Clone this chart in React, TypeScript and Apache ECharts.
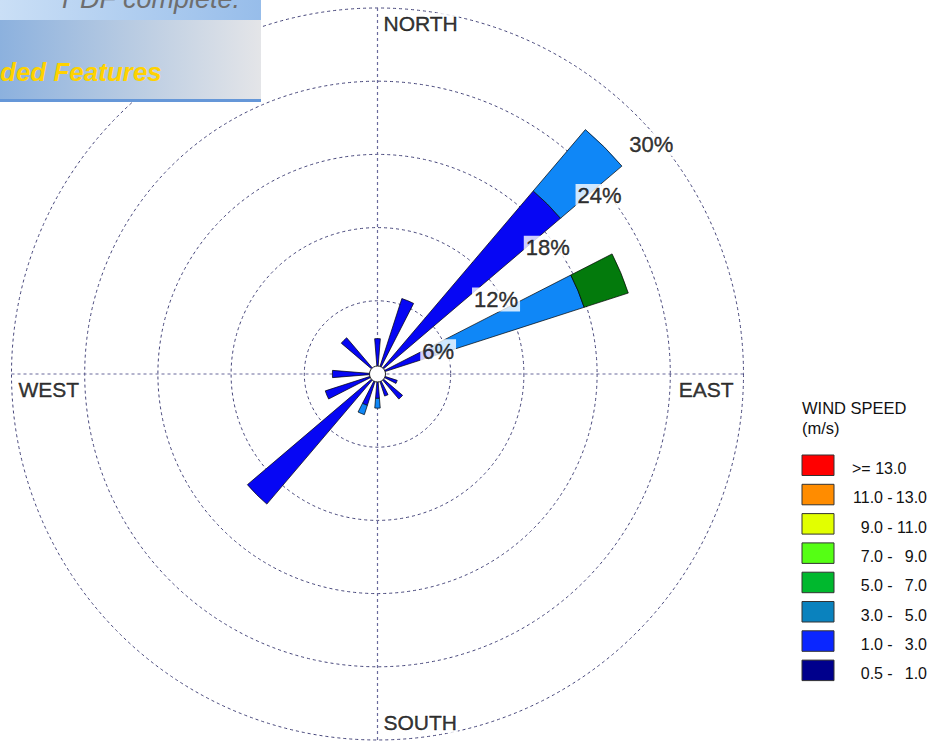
import React, { useEffect, useRef } from "react";
import * as echarts from "echarts";

// 16 compass sectors, clockwise from north
const directions = ["N", "NNE", "NE", "ENE", "E", "ESE", "SE", "SSE", "S", "SSW", "SW", "WSW", "W", "WNW", "NW", "NNW"];

// Frequency (%) of each wind speed class per sector
const speed1to3 = [2.9, 6.5, 19.7, 5.0, 0, 1.7, 2.7, 1.9, 2.0, 2.7, 14.0, 4.5, 3.7, 0, 3.9, 0];
const speed3to5 = [0, 0, 6.6, 12.8, 0, 0, 0, 0, 0.8, 0.8, 0, 0, 0, 0, 0, 0];
const speed5to7 = [0, 0, 0, 3.8, 0, 0, 0, 0, 0, 0, 0, 0, 0, 0, 0, 0];

// Frequency rings
const ringTicks = [6, 12, 18, 24, 30];
const ringMax = 30;

// Compass labels and their bearings
const compassNames = ["NORTH", "EAST", "SOUTH", "WEST"];
const compassBearings = [0, 90, 180, 270];

// Legend classes (m/s)
const legendTitle = ["WIND SPEED", "(m/s)"];
const classLow = ["", "11.0", "9.0", "7.0", "5.0", "3.0", "1.0", "0.5"];
const classHigh = [">= 13.0", "13.0", "11.0", "9.0", "7.0", "5.0", "3.0", "1.0"];
const classColors = ["#FF0000", "#FF8C00", "#E2FF00", "#55FF14", "#00B82E", "#0A82BE", "#0A26FF", "#00008C"];

// Colours of the bar segments as drawn in the rose
const barColors = { s1: "#0606F4", s3: "#0F87F7", s5: "#037A0C" };

const CENTER: [number, number] = [377.5, 374];
const RADIUS = 366;
const FONT = "'Liberation Sans', Arial, Helvetica, sans-serif";

const nz = (arr: number[]) => arr.map((v) => (v === 0 ? null : v));

function buildOption() {
  const barCommon = {
    type: "bar" as const,
    coordinateSystem: "polar",
    polarIndex: 0,
    stack: "rose",
    barWidth: "41%",
    z: 2,
    silent: true,
  };

  const compassLayouts: Record<string, any> = {
    NORTH: { position: [5, 5], align: "left" },
    EAST: { position: [-9, 5], align: "right" },
    SOUTH: { position: [5, -28], align: "left" },
    WEST: { position: [6, 5], align: "left" },
  };

  const ink = { fill: "#111" };

  const legendX = 802;
  const legendTop = 455;
  const rowStep = 29.3;
  const rowFont = `16px ${FONT}`;
  const legendGraphics: any[] = [
    {
      type: "text",
      left: legendX,
      top: 399,
      style: { text: legendTitle[0], font: `16.5px ${FONT}`, ...ink },
    },
    {
      type: "text",
      left: legendX,
      top: 419,
      style: { text: legendTitle[1], font: `16.5px ${FONT}`, ...ink },
    },
  ];
  classColors.forEach((c, i) => {
    const y = legendTop + i * rowStep;
    legendGraphics.push({
      type: "rect",
      shape: { x: legendX, y, width: 32, height: 20.5 },
      style: { fill: c, stroke: "#333", lineWidth: 1 },
    });
    const ty = y + 13.5;
    if (classLow[i] === "") {
      legendGraphics.push({
        type: "text",
        x: 852,
        y: ty,
        style: { text: classHigh[i], font: rowFont, ...ink, textAlign: "left", textVerticalAlign: "middle" },
      });
    } else {
      legendGraphics.push(
        {
          type: "text",
          x: 883,
          y: ty,
          style: { text: classLow[i], font: rowFont, ...ink, textAlign: "right", textVerticalAlign: "middle" },
        },
        {
          type: "text",
          x: 890,
          y: ty,
          style: { text: "-", font: rowFont, ...ink, textAlign: "center", textVerticalAlign: "middle" },
        },
        {
          type: "text",
          x: 927,
          y: ty,
          style: { text: classHigh[i], font: rowFont, ...ink, textAlign: "right", textVerticalAlign: "middle" },
        }
      );
    }
  });

  // Software banner in the top-left corner
  const banner: any[] = [
    {
      type: "rect",
      shape: { x: 0, y: 0, width: 261, height: 20 },
      style: {
        fill: new echarts.graphic.LinearGradient(0, 0, 1, 0, [
          { offset: 0, color: "#CADFF6" },
          { offset: 1, color: "#97BDEA" },
        ]),
      },
      z: 50,
    },
    {
      type: "rect",
      shape: { x: 0, y: 20, width: 261, height: 80 },
      style: {
        fill: new echarts.graphic.LinearGradient(0, 0, 1, 0, [
          { offset: 0, color: "#8CB1DE" },
          { offset: 0.5, color: "#B8CBE2" },
          { offset: 1, color: "#E4E5E8" },
        ]),
      },
      z: 50,
    },
    {
      type: "rect",
      shape: { x: 0, y: 99, width: 261, height: 3 },
      style: { fill: "#6597D8" },
      z: 51,
    },
    {
      type: "text",
      x: 240,
      y: 12,
      style: {
        text: "PDF complete.",
        font: `italic 27px ${FONT}`,
        fill: "#6E6E6E",
        textAlign: "right",
        textVerticalAlign: "bottom",
      },
      z: 52,
    },
    {
      type: "text",
      x: 0,
      y: 72,
      style: {
        text: "ded Features",
        font: `italic bold 26px ${FONT}`,
        fill: "#FFD200",
        textAlign: "left",
        textVerticalAlign: "middle",
      },
      z: 52,
    },
  ];

  return {
    animation: false,
    backgroundColor: "#FFFFFF",
    polar: [
      { center: CENTER, radius: [0, RADIUS] },
      { center: CENTER, radius: [0, RADIUS] },
    ],
    angleAxis: [
      {
        polarIndex: 0,
        type: "category",
        data: directions,
        startAngle: 90 + 180 / directions.length,
        clockwise: true,
        show: false,
      },
      {
        polarIndex: 1,
        type: "value",
        min: 0,
        max: 360,
        interval: 90,
        startAngle: 90,
        clockwise: true,
        axisLine: { show: false },
        axisTick: { show: false },
        axisLabel: { show: false },
        splitLine: { show: true, lineStyle: { color: "#6A6A9C", width: 1.2, type: [3, 3] } },
      },
    ],
    radiusAxis: [
      { polarIndex: 0, type: "value", min: 0, max: ringMax, show: false },
      {
        polarIndex: 1,
        type: "value",
        min: 0,
        max: ringMax,
        interval: 6,
        axisLine: { show: false },
        axisTick: { show: false },
        axisLabel: { show: false },
        splitLine: { show: true, lineStyle: { color: "#45457A", width: 1, type: [3, 3] } },
      },
    ],
    series: [
      { ...barCommon, name: "1.0 - 3.0", data: nz(speed1to3), itemStyle: { color: barColors.s1, borderColor: "#000", borderWidth: 0.7 } },
      { ...barCommon, name: "3.0 - 5.0", data: nz(speed3to5), itemStyle: { color: barColors.s3, borderColor: "#000", borderWidth: 0.7 } },
      { ...barCommon, name: "5.0 - 7.0", data: nz(speed5to7), itemStyle: { color: barColors.s5, borderColor: "#000", borderWidth: 0.7 } },
      {
        type: "scatter",
        coordinateSystem: "polar",
        polarIndex: 1,
        symbolSize: 0,
        silent: true,
        z: 10,
        data: ringTicks.map((r) => ({ value: [r, 45] })),
        label: {
          show: true,
          position: [-9, 17],
          formatter: (p: any) => `${p.value[0]}%`,
          fontFamily: FONT,
          fontSize: 22,
          color: "#000",
          textBorderColor: "#000",
          textBorderWidth: 0.4,
          backgroundColor: "#FFFFFF",
          padding: [1, 2],
          align: "left",
          verticalAlign: "top",
        },
      },
      {
        type: "scatter",
        coordinateSystem: "polar",
        polarIndex: 1,
        symbolSize: 0,
        silent: true,
        z: 10,
        data: compassNames.map((name, i) => ({
          value: [ringMax, compassBearings[i]],
          name,
          label: {
            position: compassLayouts[name].position,
            align: compassLayouts[name].align,
          },
        })),
        label: {
          show: true,
          formatter: (p: any) => p.name,
          fontFamily: FONT,
          fontSize: 21,
          color: "#000",
          textBorderColor: "#000",
          textBorderWidth: 0.4,
          backgroundColor: "#FFFFFF",
          padding: [0, 1],
          verticalAlign: "top",
        },
      },
    ],
    graphic: [
      {
        type: "circle",
        shape: { cx: CENTER[0], cy: CENTER[1], r: 8 },
        style: { fill: "#FFFFFF", stroke: "#222", lineWidth: 1 },
        z: 20,
      },
      ...legendGraphics,
      ...banner,
    ],
  };
}

export default function App() {
  const ref = useRef<HTMLDivElement>(null);
  useEffect(() => {
    if (!ref.current) return;
    const chart = echarts.init(ref.current, undefined, { renderer: "svg" });
    chart.setOption(buildOption() as any);
    return () => chart.dispose();
  }, []);
  return (
    <div
      ref={ref}
      style={{ position: "absolute", left: 0, top: 0, width: 934, height: 742, background: "#fff" }}
    />
  );
}
